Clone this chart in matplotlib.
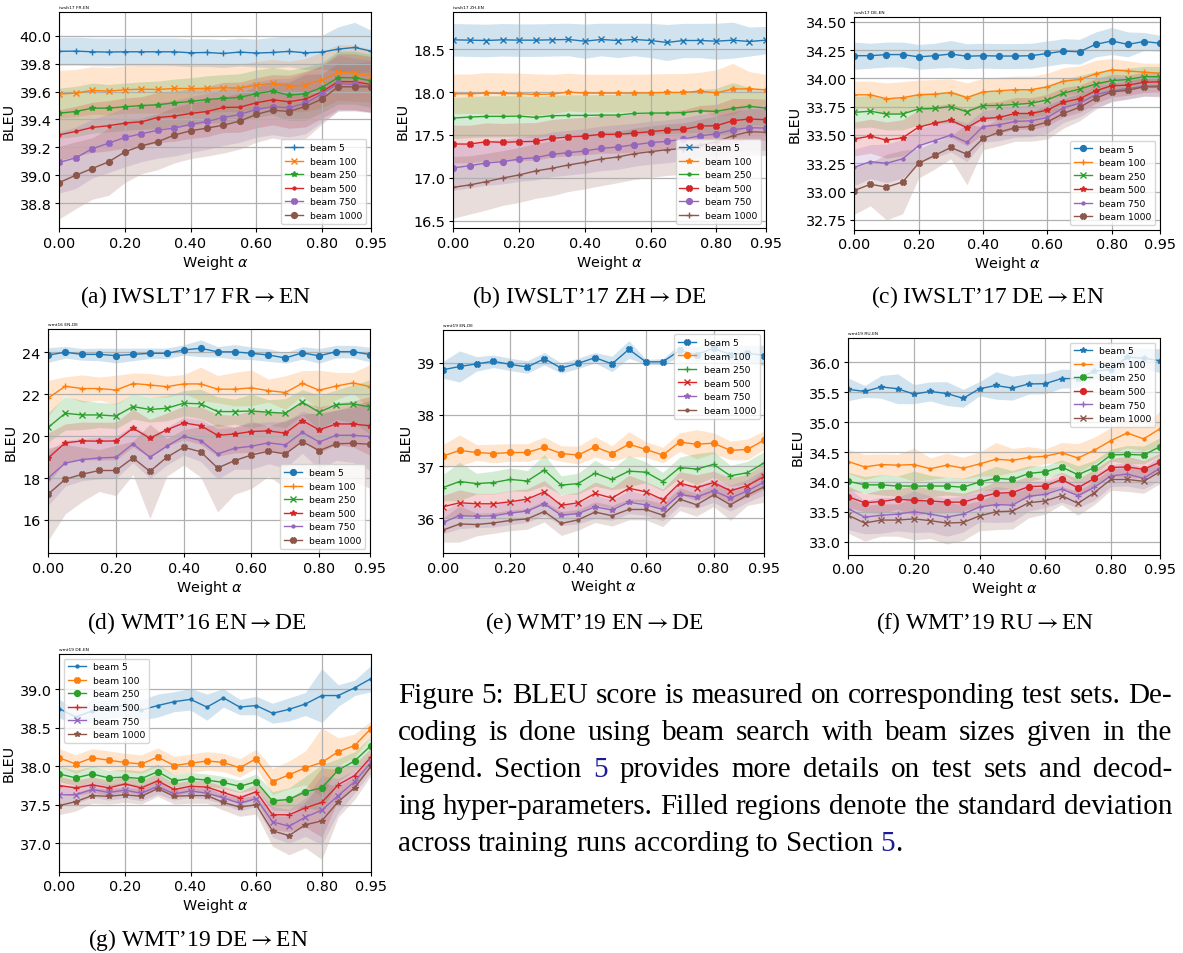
import matplotlib
matplotlib.use("Agg")
import matplotlib.pyplot as plt
import numpy as np

# ---------------- data ----------------
X = [0.00, 0.05, 0.10, 0.15, 0.20, 0.25, 0.30, 0.35, 0.40, 0.45,
     0.50, 0.55, 0.60, 0.65, 0.70, 0.75, 0.80, 0.85, 0.90, 0.95]
BEAMS = ["beam 5", "beam 100", "beam 250", "beam 500", "beam 750", "beam 1000"]
XTICKS = [0.00, 0.20, 0.40, 0.60, 0.80, 0.95]
XTICKLABELS = ["0.00", "0.20", "0.40", "0.60", "0.80", "0.95"]

# (a) iwslt17 FR-EN
A_MEAN5 = [39.888, 39.890, 39.885, 39.883, 39.885, 39.885, 39.885, 39.885, 39.878, 39.880, 39.873, 39.883, 39.876, 39.880, 39.888, 39.878, 39.883, 39.904, 39.916, 39.890]
A_STD5 = [0.10, 0.10, 0.10, 0.10, 0.10, 0.10, 0.10, 0.10, 0.10, 0.10, 0.10, 0.10, 0.10, 0.11, 0.11, 0.12, 0.12, 0.16, 0.18, 0.15]
A_MEAN100 = [39.582, 39.589, 39.608, 39.603, 39.613, 39.617, 39.615, 39.622, 39.622, 39.622, 39.627, 39.625, 39.646, 39.660, 39.637, 39.646, 39.684, 39.737, 39.732, 39.713]
A_STD100 = [0.17, 0.17, 0.17, 0.17, 0.17, 0.17, 0.17, 0.17, 0.17, 0.17, 0.17, 0.17, 0.17, 0.17, 0.18, 0.19, 0.20, 0.20, 0.20, 0.19]
A_MEAN250 = [39.445, 39.457, 39.481, 39.481, 39.491, 39.500, 39.505, 39.519, 39.529, 39.543, 39.551, 39.558, 39.586, 39.603, 39.574, 39.584, 39.629, 39.700, 39.699, 39.677]
A_STD250 = [0.18, 0.18, 0.18, 0.17, 0.17, 0.17, 0.17, 0.17, 0.17, 0.17, 0.17, 0.17, 0.17, 0.17, 0.18, 0.19, 0.18, 0.19, 0.19, 0.19]
A_MEAN500 = [39.290, 39.314, 39.343, 39.355, 39.374, 39.383, 39.414, 39.424, 39.443, 39.457, 39.486, 39.488, 39.519, 39.541, 39.527, 39.546, 39.598, 39.672, 39.670, 39.651]
A_STD500 = [0.18, 0.18, 0.18, 0.18, 0.18, 0.18, 0.18, 0.18, 0.18, 0.18, 0.18, 0.18, 0.18, 0.18, 0.19, 0.20, 0.19, 0.20, 0.20, 0.20]
A_MEAN750 = [39.092, 39.125, 39.190, 39.230, 39.271, 39.297, 39.323, 39.338, 39.364, 39.386, 39.414, 39.436, 39.472, 39.491, 39.484, 39.517, 39.582, 39.658, 39.651, 39.637]
A_STD750 = [0.22, 0.22, 0.21, 0.21, 0.21, 0.20, 0.20, 0.20, 0.20, 0.20, 0.20, 0.20, 0.20, 0.20, 0.21, 0.22, 0.20, 0.20, 0.19, 0.19]
A_MEAN1000 = [38.948, 39.000, 39.048, 39.096, 39.168, 39.211, 39.240, 39.288, 39.319, 39.338, 39.359, 39.388, 39.436, 39.467, 39.457, 39.493, 39.546, 39.634, 39.634, 39.634]
A_STD1000 = [0.26, 0.24, 0.22, 0.24, 0.22, 0.20, 0.20, 0.20, 0.20, 0.20, 0.20, 0.20, 0.20, 0.20, 0.21, 0.23, 0.18, 0.17, 0.17, 0.18]

# (b) iwslt17 ZH-EN
B_MEAN5 = [18.609, 18.605, 18.601, 18.609, 18.605, 18.605, 18.609, 18.613, 18.593, 18.613, 18.601, 18.613, 18.601, 18.578, 18.601, 18.601, 18.593, 18.605, 18.589, 18.605]
B_STD5 = [0.19, 0.19, 0.19, 0.19, 0.19, 0.19, 0.19, 0.19, 0.20, 0.19, 0.20, 0.19, 0.20, 0.21, 0.20, 0.20, 0.21, 0.21, 0.17, 0.16]
B_MEAN100 = [17.980, 17.980, 17.987, 17.983, 17.980, 17.972, 17.976, 17.999, 17.987, 17.987, 17.987, 17.987, 17.991, 17.995, 17.995, 18.010, 17.990, 18.034, 18.038, 18.026]
B_STD100 = [0.23, 0.23, 0.24, 0.24, 0.24, 0.24, 0.23, 0.22, 0.22, 0.22, 0.22, 0.22, 0.22, 0.22, 0.22, 0.22, 0.27, 0.30, 0.20, 0.18]
B_MEAN250 = [17.696, 17.708, 17.716, 17.716, 17.719, 17.704, 17.723, 17.727, 17.727, 17.731, 17.731, 17.750, 17.755, 17.755, 17.760, 17.780, 17.774, 17.810, 17.833, 17.813]
B_STD250 = [0.24, 0.24, 0.24, 0.24, 0.24, 0.24, 0.24, 0.24, 0.24, 0.24, 0.24, 0.24, 0.24, 0.24, 0.24, 0.25, 0.27, 0.30, 0.22, 0.20]
B_MEAN500 = [17.393, 17.393, 17.420, 17.413, 17.420, 17.424, 17.459, 17.475, 17.486, 17.506, 17.506, 17.521, 17.537, 17.556, 17.564, 17.603, 17.607, 17.665, 17.685, 17.677]
B_STD500 = [0.22, 0.22, 0.22, 0.22, 0.22, 0.22, 0.22, 0.22, 0.22, 0.22, 0.22, 0.22, 0.22, 0.22, 0.23, 0.24, 0.25, 0.26, 0.24, 0.24]
B_MEAN750 = [17.114, 17.141, 17.172, 17.187, 17.218, 17.234, 17.273, 17.292, 17.312, 17.343, 17.358, 17.385, 17.409, 17.425, 17.450, 17.490, 17.510, 17.560, 17.583, 17.580]
B_STD750 = [0.26, 0.26, 0.26, 0.26, 0.26, 0.26, 0.26, 0.26, 0.26, 0.26, 0.26, 0.25, 0.25, 0.25, 0.25, 0.25, 0.25, 0.26, 0.26, 0.26]
B_MEAN1000 = [16.888, 16.916, 16.954, 16.997, 17.032, 17.079, 17.110, 17.149, 17.180, 17.218, 17.242, 17.280, 17.304, 17.327, 17.340, 17.380, 17.420, 17.490, 17.537, 17.530]
B_STD1000 = [0.36, 0.34, 0.33, 0.32, 0.32, 0.32, 0.32, 0.31, 0.31, 0.31, 0.30, 0.30, 0.30, 0.30, 0.30, 0.30, 0.30, 0.28, 0.27, 0.27]

# (c) iwslt17 DE-EN
C_MEAN5 = [34.200, 34.200, 34.210, 34.210, 34.190, 34.200, 34.215, 34.195, 34.200, 34.197, 34.197, 34.200, 34.220, 34.240, 34.235, 34.300, 34.330, 34.300, 34.325, 34.310]
C_STD5 = [0.12, 0.11, 0.11, 0.11, 0.11, 0.11, 0.12, 0.11, 0.11, 0.11, 0.11, 0.11, 0.11, 0.11, 0.11, 0.11, 0.12, 0.11, 0.08, 0.07]
C_MEAN100 = [33.855, 33.855, 33.820, 33.830, 33.855, 33.860, 33.875, 33.830, 33.880, 33.890, 33.900, 33.900, 33.925, 33.975, 33.990, 34.040, 34.075, 34.065, 34.055, 34.045]
C_STD100 = [0.12, 0.12, 0.14, 0.14, 0.13, 0.13, 0.12, 0.13, 0.12, 0.12, 0.12, 0.12, 0.12, 0.12, 0.12, 0.12, 0.10, 0.09, 0.08, 0.09]
C_MEAN250 = [33.700, 33.710, 33.685, 33.685, 33.730, 33.735, 33.750, 33.705, 33.760, 33.760, 33.770, 33.780, 33.810, 33.870, 33.905, 33.950, 33.980, 33.990, 34.015, 34.015]
C_STD250 = [0.14, 0.14, 0.14, 0.14, 0.14, 0.14, 0.14, 0.14, 0.13, 0.13, 0.13, 0.13, 0.13, 0.12, 0.12, 0.11, 0.10, 0.10, 0.09, 0.09]
C_MEAN500 = [33.465, 33.490, 33.455, 33.475, 33.570, 33.605, 33.630, 33.565, 33.645, 33.655, 33.690, 33.690, 33.720, 33.790, 33.820, 33.890, 33.935, 33.940, 33.965, 33.970]
C_STD500 = [0.15, 0.15, 0.16, 0.16, 0.15, 0.15, 0.15, 0.16, 0.14, 0.14, 0.14, 0.14, 0.14, 0.13, 0.12, 0.11, 0.10, 0.09, 0.09, 0.09]
C_MEAN750 = [33.215, 33.265, 33.250, 33.290, 33.405, 33.450, 33.500, 33.435, 33.575, 33.590, 33.620, 33.625, 33.655, 33.740, 33.780, 33.855, 33.890, 33.910, 33.930, 33.935]
C_STD750 = [0.16, 0.15, 0.17, 0.17, 0.15, 0.15, 0.15, 0.17, 0.14, 0.14, 0.14, 0.14, 0.14, 0.13, 0.12, 0.11, 0.10, 0.09, 0.09, 0.09]
C_MEAN1000 = [33.010, 33.065, 33.040, 33.085, 33.250, 33.320, 33.390, 33.330, 33.470, 33.525, 33.565, 33.575, 33.615, 33.690, 33.745, 33.825, 33.880, 33.895, 33.925, 33.925]
C_STD1000 = [0.21, 0.19, 0.29, 0.28, 0.13, 0.12, 0.10, 0.27, 0.10, 0.12, 0.12, 0.13, 0.15, 0.13, 0.12, 0.10, 0.08, 0.08, 0.08, 0.09]

# (d) wmt16 EN-DE
D_MEAN5 = [23.87, 24.00, 23.90, 23.90, 23.84, 23.90, 23.95, 23.95, 24.11, 24.19, 24.02, 24.02, 23.95, 23.87, 23.73, 23.97, 23.83, 24.03, 24.03, 23.89]
D_STD5 = [0.35, 0.28, 0.28, 0.30, 0.35, 0.30, 0.25, 0.25, 0.25, 0.40, 0.25, 0.35, 0.30, 0.30, 0.25, 0.30, 0.35, 0.30, 0.30, 0.35]
D_MEAN100 = [21.82, 22.38, 22.27, 22.27, 22.20, 22.51, 22.44, 22.36, 22.49, 22.49, 22.24, 22.24, 22.30, 22.17, 22.08, 22.52, 22.19, 22.39, 22.54, 22.36]
D_STD100 = [0.85, 0.45, 0.65, 0.55, 0.70, 0.50, 0.55, 0.50, 0.45, 0.80, 0.65, 0.80, 0.85, 0.55, 0.80, 0.60, 0.95, 0.65, 0.50, 1.05]
D_MEAN250 = [20.42, 21.09, 21.01, 21.01, 20.96, 21.41, 21.27, 21.33, 21.57, 21.54, 21.17, 21.17, 21.20, 21.14, 21.09, 21.62, 21.14, 21.50, 21.54, 21.39]
D_STD250 = [0.70, 0.80, 0.70, 0.60, 0.60, 0.60, 0.60, 0.60, 0.60, 0.70, 0.70, 0.60, 0.80, 0.60, 0.70, 0.60, 0.80, 0.70, 0.90, 1.30]
D_MEAN500 = [18.96, 19.68, 19.77, 19.76, 19.77, 20.38, 19.90, 20.30, 20.63, 20.50, 20.04, 20.10, 20.22, 20.25, 20.14, 20.74, 20.30, 20.58, 20.58, 20.49]
D_STD500 = [1.20, 0.90, 0.90, 0.90, 0.90, 0.90, 0.90, 0.80, 0.80, 0.90, 1.00, 0.90, 1.00, 0.90, 1.00, 0.90, 1.10, 1.00, 1.10, 1.40]
D_MEAN750 = [18.01, 18.71, 18.88, 18.96, 18.99, 19.63, 18.99, 19.52, 19.99, 19.79, 19.15, 19.42, 19.52, 19.68, 19.58, 20.18, 19.72, 20.04, 20.04, 19.98]
D_STD750 = [1.30, 1.10, 1.00, 1.00, 1.00, 0.90, 1.00, 0.90, 0.90, 1.00, 1.20, 1.00, 1.10, 1.00, 1.10, 1.00, 1.30, 1.20, 1.30, 1.60]
D_MEAN1000 = [17.24, 17.94, 18.18, 18.36, 18.36, 18.96, 18.32, 18.99, 19.47, 19.25, 18.48, 18.83, 19.10, 19.28, 19.15, 19.74, 19.31, 19.63, 19.66, 19.61]
D_STD1000 = [2.20, 1.65, 1.30, 1.00, 1.20, 0.80, 2.25, 0.90, 0.85, 1.20, 2.10, 1.60, 1.60, 1.20, 1.60, 1.30, 1.80, 1.60, 1.80, 2.10]

# (e) wmt19 EN-DE
E_MEAN5 = [38.865, 38.93, 38.98, 39.03, 38.97, 38.92, 39.08, 38.90, 38.99, 39.10, 38.98, 39.26, 39.02, 39.02, 39.24, 39.16, 39.28, 39.16, 39.19, 39.14]
E_STD5 = [0.16, 0.30, 0.14, 0.12, 0.12, 0.12, 0.12, 0.10, 0.10, 0.10, 0.15, 0.17, 0.05, 0.06, 0.12, 0.15, 0.14, 0.15, 0.15, 0.20]
E_MEAN100 = [37.20, 37.31, 37.27, 37.25, 37.27, 37.27, 37.37, 37.25, 37.22, 37.38, 37.25, 37.43, 37.33, 37.22, 37.47, 37.43, 37.45, 37.31, 37.33, 37.51]
E_STD100 = [0.22, 0.30, 0.15, 0.18, 0.17, 0.17, 0.20, 0.15, 0.17, 0.20, 0.15, 0.24, 0.15, 0.15, 0.18, 0.28, 0.20, 0.18, 0.20, 0.18]
E_MEAN250 = [36.59, 36.71, 36.67, 36.69, 36.75, 36.72, 36.93, 36.64, 36.67, 36.87, 36.75, 36.91, 36.89, 36.71, 36.98, 36.95, 37.04, 36.82, 36.88, 37.07]
E_STD250 = [0.25, 0.37, 0.20, 0.22, 0.22, 0.20, 0.30, 0.18, 0.20, 0.25, 0.20, 0.30, 0.20, 0.18, 0.20, 0.30, 0.25, 0.20, 0.22, 0.22]
E_MEAN500 = [36.22, 36.30, 36.28, 36.28, 36.32, 36.37, 36.51, 36.25, 36.30, 36.48, 36.39, 36.58, 36.51, 36.36, 36.68, 36.59, 36.69, 36.53, 36.63, 36.81]
E_STD500 = [0.22, 0.25, 0.20, 0.20, 0.22, 0.20, 0.22, 0.20, 0.20, 0.22, 0.20, 0.25, 0.20, 0.20, 0.22, 0.25, 0.22, 0.25, 0.22, 0.25]
E_MEAN750 = [35.92, 36.05, 36.04, 36.05, 36.10, 36.14, 36.28, 36.06, 36.09, 36.22, 36.16, 36.31, 36.26, 36.17, 36.46, 36.41, 36.53, 36.39, 36.53, 36.70]
E_STD750 = [0.22, 0.25, 0.22, 0.22, 0.22, 0.22, 0.22, 0.20, 0.20, 0.22, 0.20, 0.22, 0.20, 0.22, 0.22, 0.22, 0.22, 0.25, 0.22, 0.25]
E_MEAN1000 = [35.77, 35.89, 35.88, 35.91, 35.96, 35.99, 36.13, 35.90, 35.97, 36.12, 36.05, 36.17, 36.17, 36.06, 36.37, 36.26, 36.45, 36.26, 36.45, 36.61]
E_STD1000 = [0.23, 0.35, 0.22, 0.20, 0.20, 0.20, 0.20, 0.23, 0.20, 0.20, 0.20, 0.20, 0.20, 0.22, 0.22, 0.22, 0.22, 0.30, 0.20, 0.30]

# (f) wmt19 RU-EN
F_MEAN5 = [35.55, 35.515, 35.59, 35.56, 35.47, 35.515, 35.48, 35.40, 35.56, 35.615, 35.57, 35.64, 35.645, 35.73, 35.73, 35.855, 35.88, 36.09, 36.07, 36.03]
F_STD5 = [0.19, 0.10, 0.19, 0.25, 0.16, 0.16, 0.20, 0.15, 0.12, 0.23, 0.20, 0.17, 0.17, 0.16, 0.15, 0.14, 0.15, 0.17, 0.17, 0.20]
F_MEAN100 = [34.34, 34.25, 34.29, 34.28, 34.29, 34.22, 34.28, 34.23, 34.30, 34.38, 34.36, 34.41, 34.43, 34.49, 34.40, 34.53, 34.69, 34.82, 34.72, 34.89]
F_STD100 = [0.20, 0.21, 0.18, 0.18, 0.28, 0.18, 0.20, 0.18, 0.20, 0.28, 0.20, 0.18, 0.12, 0.17, 0.24, 0.22, 0.22, 0.25, 0.20, 0.30]
F_MEAN250 = [34.01, 33.95, 33.95, 33.93, 33.93, 33.93, 33.93, 33.91, 34.00, 34.06, 34.04, 34.14, 34.17, 34.25, 34.12, 34.24, 34.45, 34.46, 34.45, 34.59]
F_STD250 = [0.15, 0.14, 0.17, 0.17, 0.25, 0.18, 0.15, 0.15, 0.15, 0.20, 0.15, 0.13, 0.10, 0.12, 0.15, 0.12, 0.10, 0.15, 0.15, 0.15]
F_MEAN500 = [33.75, 33.65, 33.67, 33.71, 33.69, 33.68, 33.66, 33.66, 33.74, 33.81, 33.82, 33.92, 33.93, 34.04, 33.90, 34.06, 34.24, 34.25, 34.21, 34.33]
F_STD500 = [0.18, 0.15, 0.20, 0.17, 0.25, 0.20, 0.18, 0.15, 0.15, 0.20, 0.18, 0.18, 0.12, 0.12, 0.15, 0.15, 0.15, 0.18, 0.15, 0.15]
F_MEAN750 = [33.55, 33.41, 33.44, 33.46, 33.50, 33.46, 33.41, 33.46, 33.58, 33.62, 33.61, 33.76, 33.79, 33.88, 33.77, 33.91, 34.10, 34.13, 34.06, 34.23]
F_STD750 = [0.35, 0.28, 0.30, 0.28, 0.35, 0.30, 0.32, 0.30, 0.25, 0.30, 0.28, 0.25, 0.22, 0.22, 0.20, 0.22, 0.18, 0.20, 0.18, 0.20]
F_MEAN1000 = [33.44, 33.31, 33.36, 33.36, 33.38, 33.35, 33.31, 33.32, 33.43, 33.50, 33.51, 33.65, 33.68, 33.77, 33.64, 33.82, 34.04, 34.04, 34.01, 34.17]
F_STD1000 = [0.30, 0.30, 0.27, 0.27, 0.35, 0.30, 0.35, 0.30, 0.25, 0.30, 0.30, 0.25, 0.22, 0.15, 0.20, 0.20, 0.18, 0.20, 0.20, 0.20]

# (g) wmt19 DE-EN
G_MEAN5 = [38.75, 38.64, 38.72, 38.74, 38.80, 38.73, 38.79, 38.84, 38.87, 38.77, 38.89, 38.77, 38.79, 38.69, 38.74, 38.81, 38.92, 38.92, 39.02, 39.14]
G_STD5 = [0.12, 0.10, 0.15, 0.12, 0.15, 0.13, 0.15, 0.13, 0.14, 0.17, 0.12, 0.10, 0.12, 0.13, 0.15, 0.15, 0.35, 0.14, 0.10, 0.17]
G_MEAN100 = [38.11, 38.03, 38.11, 38.08, 38.05, 38.03, 38.12, 38.01, 38.04, 38.07, 38.05, 37.98, 38.10, 37.80, 37.89, 37.98, 38.05, 38.19, 38.27, 38.49]
G_STD100 = [0.12, 0.12, 0.12, 0.12, 0.12, 0.12, 0.12, 0.12, 0.12, 0.12, 0.12, 0.12, 0.12, 0.17, 0.18, 0.22, 0.45, 0.18, 0.15, 0.10]
G_MEAN250 = [37.90, 37.85, 37.90, 37.85, 37.86, 37.84, 37.93, 37.81, 37.84, 37.82, 37.79, 37.74, 37.80, 37.55, 37.57, 37.67, 37.72, 37.95, 38.07, 38.27]
G_STD250 = [0.10, 0.10, 0.10, 0.10, 0.10, 0.10, 0.10, 0.08, 0.08, 0.08, 0.08, 0.08, 0.10, 0.12, 0.15, 0.20, 0.30, 0.15, 0.12, 0.12]
G_MEAN500 = [37.75, 37.72, 37.76, 37.72, 37.77, 37.72, 37.81, 37.70, 37.74, 37.73, 37.66, 37.59, 37.67, 37.37, 37.37, 37.46, 37.53, 37.76, 37.88, 38.12]
G_STD500 = [0.12, 0.10, 0.10, 0.10, 0.10, 0.10, 0.10, 0.08, 0.08, 0.08, 0.08, 0.08, 0.10, 0.20, 0.22, 0.25, 0.45, 0.20, 0.15, 0.12]
G_MEAN750 = [37.63, 37.63, 37.70, 37.66, 37.69, 37.65, 37.74, 37.64, 37.68, 37.65, 37.59, 37.52, 37.58, 37.28, 37.22, 37.34, 37.43, 37.62, 37.80, 38.05]
G_STD750 = [0.12, 0.12, 0.10, 0.10, 0.10, 0.10, 0.10, 0.08, 0.08, 0.08, 0.08, 0.10, 0.10, 0.20, 0.22, 0.25, 0.45, 0.22, 0.15, 0.12]
G_MEAN1000 = [37.49, 37.54, 37.62, 37.61, 37.63, 37.61, 37.71, 37.61, 37.62, 37.62, 37.53, 37.47, 37.50, 37.16, 37.10, 37.24, 37.29, 37.54, 37.72, 38.00]
G_STD1000 = [0.12, 0.12, 0.10, 0.10, 0.10, 0.10, 0.10, 0.10, 0.10, 0.10, 0.10, 0.12, 0.12, 0.20, 0.25, 0.30, 0.50, 0.20, 0.15, 0.12]

TITLES = ["iwslt17 FR-EN", "iwslt17 ZH-EN", "iwslt17 DE-EN", "wmt16 EN-DE",
          "wmt19 EN-DE", "wmt19 RU-EN", "wmt19 DE-EN"]
SUBCAPTIONS = ["(a) IWSLT\u201917 FR$\\rightarrow$EN", "(b) IWSLT\u201917 ZH$\\rightarrow$DE",
               "(c) IWSLT\u201917 DE$\\rightarrow$EN", "(d) WMT\u201916 EN$\\rightarrow$DE",
               "(e) WMT\u201919 EN$\\rightarrow$DE", "(f) WMT\u201919 RU$\\rightarrow$EN",
               "(g) WMT\u201919 DE$\\rightarrow$EN"]

# ---------------- figure ----------------
W, H = 1183, 954
fig = plt.figure(figsize=(W / 100, H / 100), dpi=100)

def px_axes(l, t, r, b):
    return fig.add_axes([l / W, 1 - b / H, (r - l) / W, (b - t) / H])

panels = [
    dict(rect=(59.3, 13.3, 371, 229.3),
         means=[A_MEAN5, A_MEAN100, A_MEAN250, A_MEAN500, A_MEAN750, A_MEAN1000],
         stds=[A_STD5, A_STD100, A_STD250, A_STD500, A_STD750, A_STD1000],
         markers=['+', 'x', '*', '.', 'X', 'o'], loc='lower right',
         ylim=(38.62, 40.168), yticks=[38.8, 39.0, 39.2, 39.4, 39.6, 39.8, 40.0], fmt="%.1f",
         cap=(196, 297)),
    dict(rect=(453.3, 13.3, 765.7, 229.3),
         means=[B_MEAN5, B_MEAN100, B_MEAN250, B_MEAN500, B_MEAN750, B_MEAN1000],
         stds=[B_STD5, B_STD100, B_STD250, B_STD500, B_STD750, B_STD1000],
         markers=['x', '*', '.', 'X', 'o', '+'], loc='lower right',
         ylim=(16.41, 18.93), yticks=[16.5, 17.0, 17.5, 18.0, 18.5], fmt="%.1f",
         cap=(589, 297)),
    dict(rect=(854.3, 18.3, 1160, 230.7),
         means=[C_MEAN5, C_MEAN100, C_MEAN250, C_MEAN500, C_MEAN750, C_MEAN1000],
         stds=[C_STD5, C_STD100, C_STD250, C_STD500, C_STD750, C_STD1000],
         markers=['o', '+', 'x', '*', '.', 'X'], loc='lower right',
         ylim=(32.664, 34.539), yticks=[32.75, 33.0, 33.25, 33.5, 33.75, 34.0, 34.25, 34.5], fmt="%.2f",
         cap=(988, 297)),
    dict(rect=(48.3, 330, 370, 554.3),
         means=[D_MEAN5, D_MEAN100, D_MEAN250, D_MEAN500, D_MEAN750, D_MEAN1000],
         stds=[D_STD5, D_STD100, D_STD250, D_STD500, D_STD750, D_STD1000],
         markers=['o', '+', 'x', '*', '.', 'X'], loc='lower right',
         ylim=(14.41, 25.11), yticks=[16, 18, 20, 22, 24], fmt="%d",
         cap=(197, 623)),
    dict(rect=(442.7, 330.7, 764.3, 554),
         means=[E_MEAN5, E_MEAN100, E_MEAN250, E_MEAN500, E_MEAN750, E_MEAN1000],
         stds=[E_STD5, E_STD100, E_STD250, E_STD500, E_STD750, E_STD1000],
         markers=['X', 'o', '+', 'x', '*', '.'], loc='upper right',
         ylim=(35.33, 39.64), yticks=[36, 37, 38, 39], fmt="%d",
         cap=(594, 623)),
    dict(rect=(848.3, 339, 1160, 555.7),
         means=[F_MEAN5, F_MEAN100, F_MEAN250, F_MEAN500, F_MEAN750, F_MEAN1000],
         stds=[F_STD5, F_STD100, F_STD250, F_STD500, F_STD750, F_STD1000],
         markers=['*', '.', 'X', 'o', '+', 'x'], loc='upper right',
         ylim=(32.78, 36.41), yticks=[33.0, 33.5, 34.0, 34.5, 35.0, 35.5, 36.0], fmt="%.1f",
         cap=(985, 623)),
    dict(rect=(59.3, 655, 371, 872.7),
         means=[G_MEAN5, G_MEAN100, G_MEAN250, G_MEAN500, G_MEAN750, G_MEAN1000],
         stds=[G_STD5, G_STD100, G_STD250, G_STD500, G_STD750, G_STD1000],
         markers=['.', 'X', 'o', '+', 'x', '*'], loc='upper left',
         ylim=(36.63, 39.46), yticks=[37.0, 37.5, 38.0, 38.5, 39.0], fmt="%.1f",
         cap=(198, 940)),
]

TICKFS = 10.4
SERIF = ['Liberation Serif', 'STIXGeneral', 'DejaVu Serif']
xs = np.array(X)

for p, title, cap in zip(panels, TITLES, SUBCAPTIONS):
    ax = px_axes(*p['rect'])
    for i, (m, s) in enumerate(zip(p['means'], p['stds'])):
        m = np.array(m)
        s = np.array(s)
        c = "C%d" % i
        ax.fill_between(xs, m - s, m + s, color=c, alpha=0.2, linewidth=0)
        ax.plot(xs, m, color=c, marker=p['markers'][i], markersize=4.2,
                linewidth=1.0, label=BEAMS[i])
    ax.set_xlim(0, 0.95)
    ax.set_ylim(*p['ylim'])
    ax.set_xticks(XTICKS)
    ax.set_xticklabels(XTICKLABELS)
    ax.set_yticks(p['yticks'])
    ax.set_yticklabels([p['fmt'] % v for v in p['yticks']])
    ax.tick_params(labelsize=TICKFS, length=3, width=0.8, pad=2.5)
    ax.grid(True, color='#b0b0b0', linewidth=0.9)
    ax.set_xlabel(r'Weight $\alpha$', fontsize=TICKFS, labelpad=2)
    ax.set_ylabel('BLEU', fontsize=TICKFS, labelpad=3)
    ax.set_title(title, loc='left', fontsize=3.2, pad=3)
    ax.legend(loc=p['loc'], fontsize=6.6)
    fig.text(p['cap'][0] / W, 1 - p['cap'][1] / H, cap, ha='center', va='center',
             fontsize=16.9, family=SERIF, math_fontfamily='stix')

# ---------------- justified caption ----------------
BLUE = '#1a1a96'
K = 'black'
CAPTION_LINES = [
    [[("Figure", K)], [("5:", K)], [("BLEU", K)], [("score", K)], [("is", K)], [("measured", K)],
     [("on", K)], [("corresponding", K)], [("test", K)], [("sets.", K)], [("De-", K)]],
    [[("coding", K)], [("is", K)], [("done", K)], [("using", K)], [("beam", K)], [("search", K)],
     [("with", K)], [("beam", K)], [("sizes", K)], [("given", K)], [("in", K)], [("the", K)]],
    [[("legend.", K)], [("Section", K)], [("5", BLUE)], [("provides", K)], [("more", K)],
     [("details", K)], [("on", K)], [("test", K)], [("sets", K)], [("and", K)], [("decod-", K)]],
    [[("ing", K)], [("hyper-parameters.", K)], [("Filled", K)], [("regions", K)], [("denote", K)],
     [("the", K)], [("standard", K)], [("deviation", K)]],
    [[("across", K)], [("training", K)], [("runs", K)], [("according", K)], [("to", K)],
     [("Section", K)], [("5", BLUE), (".", K)]],
]
CAP_LEFT, CAP_RIGHT = 398.0, 1172.0
CAP_BASE0, CAP_STEP = 703.0, 36.9
CAPFS = 21.0

fig.canvas.draw()
renderer = fig.canvas.get_renderer()

def text_width(s):
    t = fig.text(0, 0, s, fontsize=CAPFS, family=SERIF)
    w = t.get_window_extent(renderer).width
    t.remove()
    return w

space_w = text_width("a b") - text_width("ab")

for li, words in enumerate(CAPTION_LINES):
    widths = [[text_width(txt) for txt, _ in word] for word in words]
    totals = [sum(w) for w in widths]
    justify = li < len(CAPTION_LINES) - 1
    if justify:
        gap = (CAP_RIGHT - CAP_LEFT - sum(totals)) / (len(words) - 1)
    else:
        gap = space_w
    y = 1 - (CAP_BASE0 + li * CAP_STEP) / H
    xpos = CAP_LEFT
    for word, ws in zip(words, widths):
        for (txt, col), w in zip(word, ws):
            fig.text(xpos / W, y, txt, fontsize=CAPFS, family=SERIF, color=col,
                     ha='left', va='baseline')
            xpos += w
        xpos += gap

fig.savefig("out.png", dpi=100)
